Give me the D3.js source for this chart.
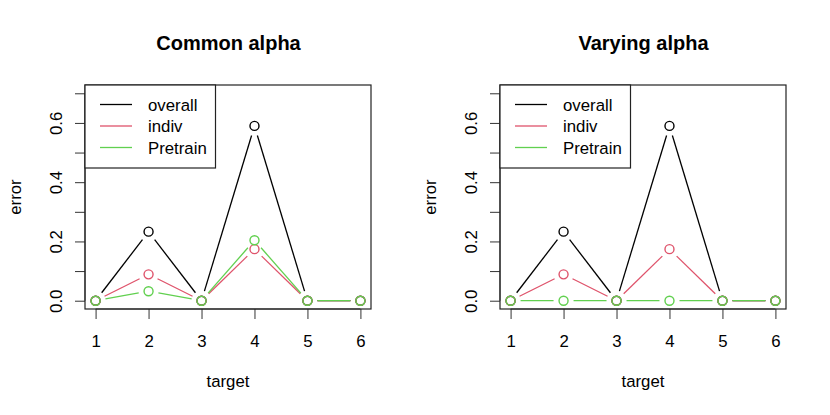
<!DOCTYPE html>
<html>
<head>
<meta charset="utf-8">
<script src="https://cdn.jsdelivr.net/npm/d3@7"></script>
<style>
  body { margin: 0; background: #fff; }
  text { font-family: "Liberation Sans", Arial, sans-serif; fill: #000; }
</style>
</head>
<body>
<div id="chart"></div>
<script>
// data
var targets = [1, 2, 3, 4, 5, 6];
var seriesNames = ["overall", "indiv", "Pretrain"];
var seriesColors = ["#000000", "#DF536B", "#61D04F"];

var commonOverall = [0, 0.233, 0, 0.59, 0, 0];
var commonIndiv = [0, 0.089, 0, 0.174, 0, 0];
var commonPretrain = [0, 0.032, 0, 0.204, 0, 0];

var varyingOverall = [0, 0.233, 0, 0.59, 0, 0];
var varyingIndiv = [0, 0.089, 0, 0.174, 0, 0];
var varyingPretrain = [0, 0, 0, 0, 0, 0];

var yTicks = [0, 0.1, 0.2, 0.3, 0.4, 0.5, 0.6, 0.7];
var yLabels = [0, 0.2, 0.4, 0.6];

var svgWidth = 830;
var svgHeight = 415;
var fontSize = "16.8px";

var svg = d3.select("#chart")
  .append("svg")
  .attr("width", svgWidth)
  .attr("height", svgHeight);

// plot box inside each panel
var box = { left: 85, top: 85, width: 286, height: 224 };
var gap = 10; // type="b" leaves a gap round each point

function drawPanel(offsetX, title, seriesData) {
  var g = svg.append("g").attr("transform", `translate(${offsetX}, 0)`);

  // R style 4% padding on the limits
  var x = d3.scaleLinear().domain([0.8, 6.2]).range([box.left, box.left + box.width]);
  var y = d3.scaleLinear().domain([-0.028, 0.728]).range([box.top + box.height, box.top]);

  // title
  g.append("text")
    .attr("x", box.left + box.width / 2 + 0.5)
    .attr("y", 50)
    .attr("text-anchor", "middle")
    .style("font-size", "20px")
    .style("font-weight", "bold")
    .text(title);

  // x axis
  var xAxis = d3.axisBottom(x).tickValues(targets).tickSize(10).tickPadding(3).tickFormat(d3.format("d"));
  var gx = g.append("g")
    .attr("transform", `translate(0, ${box.top + box.height})`)
    .call(xAxis);
  gx.select(".domain").attr("d", `M${x(1)},0H${x(6)}`).attr("stroke", "#333");
  gx.selectAll(".tick line").attr("stroke", "#333");
  gx.selectAll(".tick text")
    .attr("y", 38)
    .attr("dy", 0)
    .style("font-size", fontSize)
    .style("font-family", "Liberation Sans, Arial, sans-serif")
    .attr("fill", "#000");

  // y axis
  var yAxis = d3.axisLeft(y).tickValues(yTicks).tickSize(10).tickFormat(function(d) {
    return yLabels.some(function(v) { return Math.abs(v - d) < 1e-9; }) ? d3.format(".1f")(d) : "";
  });
  var gy = g.append("g")
    .attr("transform", `translate(${box.left}, 0)`)
    .call(yAxis);
  gy.select(".domain").attr("d", `M0,${y(0)}V${y(0.7)}`).attr("stroke", "#333");
  gy.selectAll(".tick line").attr("stroke", "#333");
  gy.selectAll(".tick text")
    .attr("x", 0)
    .attr("dy", 0)
    .attr("text-anchor", "middle")
    .attr("transform", "translate(-23, 0) rotate(-90)")
    .style("font-size", fontSize)
    .style("font-family", "Liberation Sans, Arial, sans-serif")
    .attr("fill", "#000");

  // axis titles
  g.append("text")
    .attr("x", box.left + box.width / 2)
    .attr("y", 387)
    .attr("text-anchor", "middle")
    .style("font-size", fontSize)
    .text("target");

  g.append("text")
    .attr("transform", `translate(21, ${box.top + box.height / 2}) rotate(-90)`)
    .attr("text-anchor", "middle")
    .style("font-size", fontSize)
    .text("error");

  // series: segments with gaps, then open circles
  seriesData.forEach(function(values, i) {
    var pts = values.map(function(v, j) { return [x(targets[j]), y(v)]; });
    var segs = d3.pairs(pts).filter(function(p) {
      var dx = p[1][0] - p[0][0], dy = p[1][1] - p[0][1];
      return Math.sqrt(dx * dx + dy * dy) > 2 * gap;
    });
    g.selectAll(null)
      .data(segs)
      .enter()
      .append("line")
      .attr("x1", function(p) { var d = Math.hypot(p[1][0] - p[0][0], p[1][1] - p[0][1]); return p[0][0] + (p[1][0] - p[0][0]) * gap / d; })
      .attr("y1", function(p) { var d = Math.hypot(p[1][0] - p[0][0], p[1][1] - p[0][1]); return p[0][1] + (p[1][1] - p[0][1]) * gap / d; })
      .attr("x2", function(p) { var d = Math.hypot(p[1][0] - p[0][0], p[1][1] - p[0][1]); return p[1][0] - (p[1][0] - p[0][0]) * gap / d; })
      .attr("y2", function(p) { var d = Math.hypot(p[1][0] - p[0][0], p[1][1] - p[0][1]); return p[1][1] - (p[1][1] - p[0][1]) * gap / d; })
      .attr("stroke", seriesColors[i])
      .attr("stroke-width", 1.3);

    g.selectAll(null)
      .data(pts)
      .enter()
      .append("circle")
      .attr("cx", function(p) { return p[0]; })
      .attr("cy", function(p) { return p[1]; })
      .attr("r", 4.5)
      .attr("fill", "none")
      .attr("stroke", seriesColors[i])
      .attr("stroke-width", 1.4);
  });

  // plot box
  g.append("rect")
    .attr("x", box.left)
    .attr("y", box.top)
    .attr("width", box.width)
    .attr("height", box.height)
    .attr("fill", "none")
    .attr("stroke", "#222")
    .attr("stroke-width", 1.2);

  // legend
  var leg = g.append("g");
  leg.append("rect")
    .attr("x", box.left)
    .attr("y", box.top)
    .attr("width", 130.5)
    .attr("height", 83)
    .attr("fill", "#fff")
    .attr("stroke", "#222")
    .attr("stroke-width", 1.2);
  seriesNames.forEach(function(name, i) {
    var ly = 104.5 + i * 21.5;
    leg.append("line")
      .attr("x1", 100).attr("x2", 132)
      .attr("y1", ly).attr("y2", ly)
      .attr("stroke", seriesColors[i])
      .attr("stroke-width", 1.3);
    leg.append("text")
      .attr("x", 148)
      .attr("y", ly + 6)
      .style("font-size", fontSize)
      .text(name);
  });
}

drawPanel(0, "Common alpha", [commonOverall, commonIndiv, commonPretrain]);
drawPanel(415, "Varying alpha", [varyingOverall, varyingIndiv, varyingPretrain]);
</script>
</body>
</html>
